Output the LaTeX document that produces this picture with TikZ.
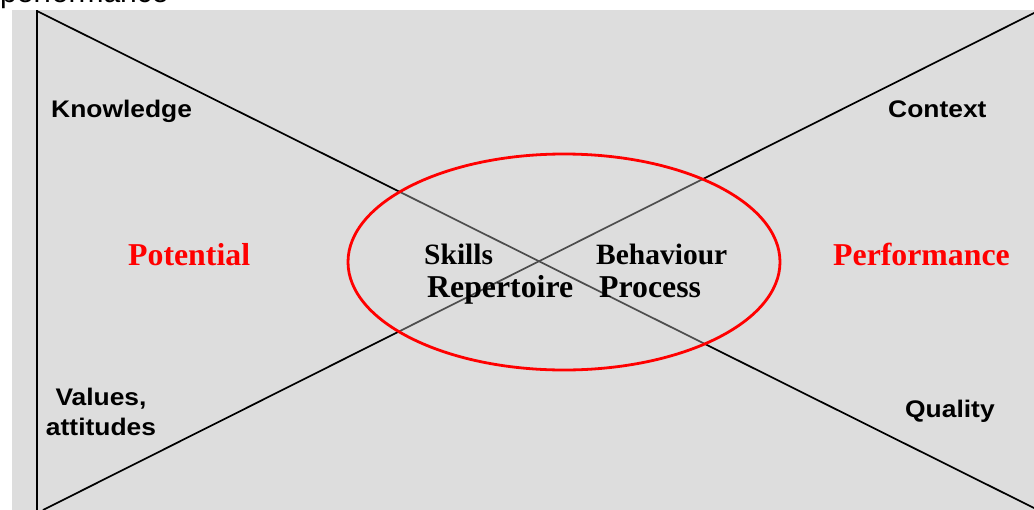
\documentclass[tikz,border=0pt]{standalone}
\usepackage{fontspec}
\setmainfont{Liberation Serif}
\newfontfamily\labsans[FakeStretch=1.1]{Liberation Sans}
\newfontfamily\topsans{Liberation Sans}
\definecolor{bggrey}{HTML}{DDDDDD}
\definecolor{pured}{HTML}{FF0000}
\tikzset{
  x=1pt, y=-1pt,
  sanslab/.style={inner sep=0pt, font=\labsans\bfseries\fontsize{24}{30}\selectfont, text=black},
  serifsmall/.style={inner sep=0pt, font=\bfseries\fontsize{29.5}{32}\selectfont, text=black},
  serifbig/.style={inner sep=0pt, font=\bfseries\fontsize{31.8}{34}\selectfont, text=black},
  redlab/.style={inner sep=0pt, font=\bfseries\fontsize{31.8}{34}\selectfont, text=pured},
  blackline/.style={draw=black, line width=1.7pt},
}
\begin{document}
\begin{tikzpicture}
\useasboundingbox (0,0) rectangle (1034,509);
\begin{scope}
\clip (0,0) rectangle (1034,509);
% cut-off caption fragment at the top
\node[inner sep=0pt, anchor=base west, font=\topsans\fontsize{30}{34}\selectfont] (cap) at (0,2) {performance};
% grey panel
\fill[bggrey] (12,10) rectangle (1040,515);
% corners
\coordinate (tl) at (37,10);
\coordinate (bl) at (37,512);
\coordinate (dtl) at (37,11);
\coordinate (dbr) at (1036,509);
\coordinate (abl) at (43,510);
\coordinate (atr) at (1036,12);
\draw[blackline] (tl) -- (bl);
\draw[blackline] (dtl) -- (dbr);
\draw[blackline] (abl) -- (atr);
% ellipse
\coordinate (ec) at (564,262);
\fill[bggrey, fill opacity=0.35] (ec) ellipse [x radius=216, y radius=108];
\draw[pured, line width=2.8pt] (ec) ellipse [x radius=216, y radius=108];
\end{scope}
% labels
\node[sanslab, anchor=base west] (knowledge) at (51,117) {Knowledge};
\node[sanslab, anchor=base west] (context) at (888,117) {Context};
\node[sanslab, anchor=base west] (quality) at (905,417) {Quality};
\node[sanslab, anchor=base, align=center] (values) at (101,435) {Values,\\attitudes};
\node[redlab, anchor=base west] (potential) at (128,265) {Potential};
\node[redlab, anchor=base west] (performance) at (833,265) {Performance};
\node[serifsmall, anchor=base west] (skills) at (424,264) {Skills};
\node[serifsmall, anchor=base west] (behaviour) at (596,264) {Behaviour};
\node[serifbig, anchor=base west] (repertoire) at (427,297) {Repertoire};
\node[serifbig, anchor=base west] (process) at (599,297) {Process};
\end{tikzpicture}
\end{document}
